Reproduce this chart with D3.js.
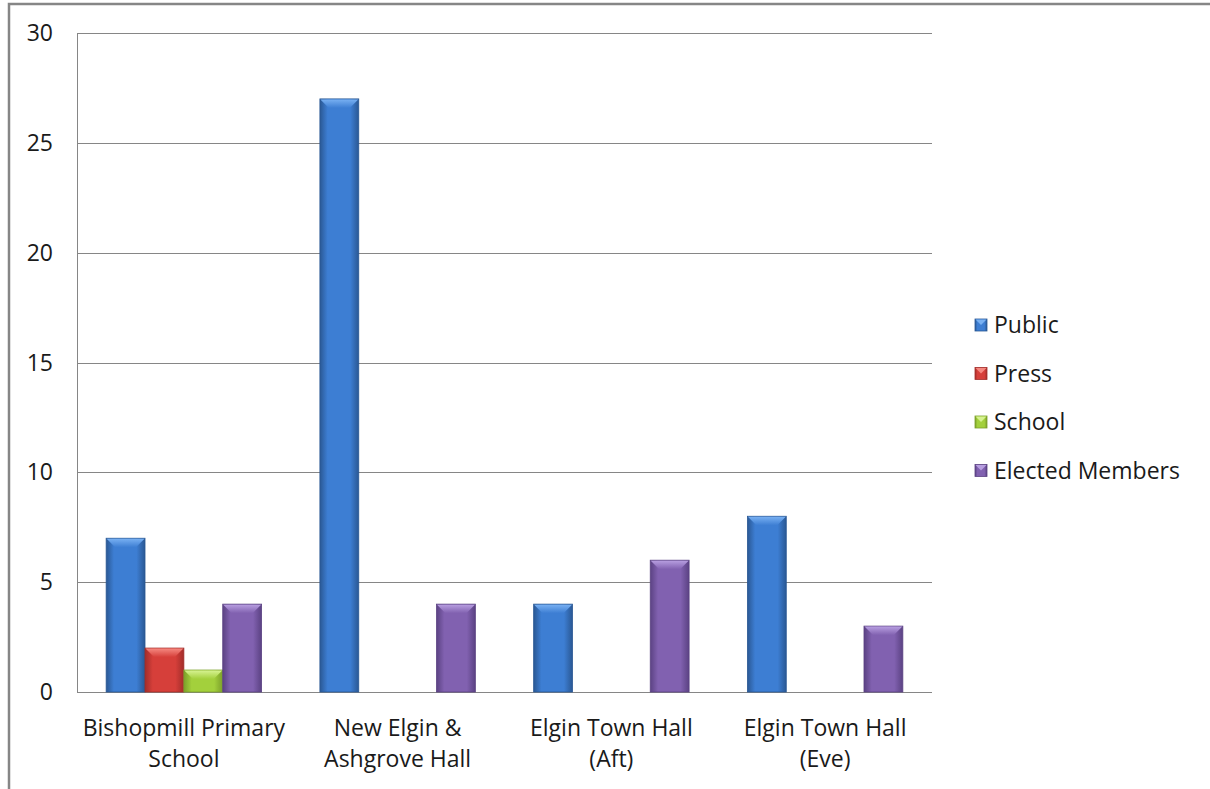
<!DOCTYPE html>
<html>
<head>
<meta charset="utf-8">
<script src="https://cdn.jsdelivr.net/npm/d3@7"></script>
<style>
  body { margin: 0; background: #fff; }
  text { font-family: "Open Sans", "Noto Sans", sans-serif; fill: #1a1a1a; }
</style>
</head>
<body>
<div id="chart"></div>
<script>
  const width = 1210;
  const height = 789;
  const margin = { top: 33, bottom: 97, left: 77, right: 278 };

  const venues = [
    ["Bishopmill Primary", "School"],
    ["New Elgin &", "Ashgrove Hall"],
    ["Elgin Town Hall", "(Aft)"],
    ["Elgin Town Hall", "(Eve)"]
  ];
  const seriesNames = ["Public", "Press", "School", "Elected Members"];
  const publicVals = [7, 27, 4, 8];
  const pressVals = [2, 0, 0, 0];
  const schoolVals = [1, 0, 0, 0];
  const electedVals = [4, 4, 6, 3];
  const yTicks = [0, 5, 10, 15, 20, 25, 30];

  const seriesVals = [publicVals, pressVals, schoolVals, electedVals];
  // colours: [edge, centre, bevel top]
  const colors = [
    ["#2a5894", "#3d7ed3", "#78b0f2"],
    ["#a22d2a", "#d63f3a", "#f58880"],
    ["#7b9f2a", "#a3d03c", "#d6f290"],
    ["#5b4283", "#8161b0", "#b79ee0"]
  ];

  const svg = d3.select("#chart").append("svg")
    .attr("width", width)
    .attr("height", height);

  // chart border
  svg.append("rect")
    .attr("x", 9).attr("y", 4)
    .attr("width", width + 10).attr("height", height + 10)
    .attr("fill", "none")
    .attr("stroke", "#868686")
    .attr("stroke-width", 2.5);

  const defs = svg.append("defs");
  colors.forEach((c, i) => {
    const g = defs.append("linearGradient").attr("id", "grad" + i)
      .attr("x1", "0%").attr("x2", "100%").attr("y1", "0%").attr("y2", "0%");
    g.append("stop").attr("offset", "0%").attr("stop-color", c[0]);
    g.append("stop").attr("offset", "20%").attr("stop-color", c[1]);
    g.append("stop").attr("offset", "78%").attr("stop-color", c[1]);
    g.append("stop").attr("offset", "100%").attr("stop-color", c[0]);
    const t = defs.append("linearGradient").attr("id", "top" + i)
      .attr("x1", "0%").attr("x2", "0%").attr("y1", "0%").attr("y2", "100%");
    t.append("stop").attr("offset", "0%").attr("stop-color", c[2]);
    t.append("stop").attr("offset", "100%").attr("stop-color", c[1]);
  });

  const x0 = d3.scaleBand()
    .domain(d3.range(venues.length))
    .range([margin.left, width - margin.right]);

  const gap = x0.bandwidth() * 1.5 / 5.5;
  const x1 = d3.scaleBand()
    .domain(d3.range(seriesNames.length))
    .range([gap / 2, x0.bandwidth() - gap / 2]);

  const y = d3.scaleLinear()
    .domain([0, 30])
    .range([height - margin.bottom, margin.top]);

  // gridlines
  svg.append("g")
    .selectAll("line")
    .data(yTicks)
    .join("line")
    .attr("x1", margin.left)
    .attr("x2", width - margin.right)
    .attr("y1", d => Math.round(y(d)) + 0.5)
    .attr("y2", d => Math.round(y(d)) + 0.5)
    .attr("stroke", "#868686");

  // left axis line
  svg.append("line")
    .attr("x1", margin.left + 0.5).attr("x2", margin.left + 0.5)
    .attr("y1", y(30)).attr("y2", y(0))
    .attr("stroke", "#868686");

  // y tick labels
  svg.append("g")
    .selectAll("text")
    .data(yTicks)
    .join("text")
    .attr("x", 53)
    .attr("y", d => y(d) + 8)
    .attr("text-anchor", "end")
    .style("font-size", "23px")
    .text(d => d);

  // bars
  const flat = [];
  seriesVals.forEach((vals, s) => vals.forEach((v, c) => { if (v > 0) flat.push({ s, c, v }); }));

  const bars = svg.append("g").selectAll("g").data(flat).join("g");

  bars.append("rect")
    .attr("x", d => x0(d.c) + x1(d.s))
    .attr("y", d => y(d.v))
    .attr("width", x1.bandwidth())
    .attr("height", d => y(0) - y(d.v))
    .attr("fill", d => "url(#grad" + d.s + ")")
    .attr("stroke", d => colors[d.s][0])
    .attr("stroke-width", 0.8);

  // top bevel
  const bevel = 9;
  bars.append("path")
    .attr("d", d => {
      const xl = x0(d.c) + x1(d.s), xr = xl + x1.bandwidth(), yt = y(d.v);
      const b = Math.min(bevel, (y(0) - yt) / 2);
      return `M${xl + 0.5},${yt + 0.5}L${xr - 0.5},${yt + 0.5}L${xr - b},${yt + b}L${xl + b},${yt + b}Z`;
    })
    .attr("fill", d => "url(#top" + d.s + ")");

  // x labels
  const xl = svg.append("g").selectAll("text")
    .data(venues)
    .join("text")
    .attr("text-anchor", "middle")
    .style("font-size", "23px")
    .attr("transform", (d, i) => `translate(${x0(i) + x0.bandwidth() / 2},0)`);
  xl.append("tspan").attr("x", 0).attr("y", 736).text(d => d[0]);
  xl.append("tspan").attr("x", 0).attr("y", 767).text(d => d[1]);

  // legend
  const legend = svg.append("g").selectAll("g")
    .data(seriesNames)
    .join("g")
    .attr("transform", (d, i) => `translate(975,${325 + i * 48.5})`);
  legend.append("rect")
    .attr("x", 0).attr("y", -6)
    .attr("width", 12).attr("height", 12)
    .attr("fill", (d, i) => "url(#grad" + i + ")")
    .attr("stroke", (d, i) => colors[i][0])
    .attr("stroke-width", 0.8);
  legend.append("path")
    .attr("d", "M0.5,-5.5L11.5,-5.5L6,0Z")
    .attr("fill", (d, i) => colors[i][2]);
  legend.append("text")
    .attr("x", 19)
    .attr("y", 8)
    .style("font-size", "23px")
    .text(d => d);
</script>
</body>
</html>
